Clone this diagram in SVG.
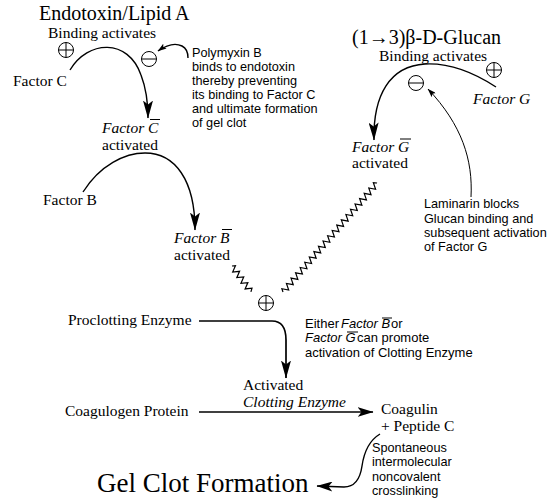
<svg xmlns="http://www.w3.org/2000/svg" width="549" height="499" viewBox="0 0 549 499">
<style>
  .serif { font-family: "Liberation Serif", "Times New Roman", serif; fill: #000; }
  .sans { font-family: "Liberation Sans", Arial, sans-serif; fill: #000; font-size: 12.7px; }
  .body { font-size: 15.5px; }
  .it { font-style: italic; }
  .wire { fill: none; stroke: #000; stroke-width: 1.4; }
  .thin { fill: none; stroke: #000; stroke-width: 1; }
  .zz { fill: none; stroke: #000; stroke-width: 1.2; stroke-linejoin: miter; }
  .bar { stroke: #000; stroke-width: 1; }
  .sym circle { fill: #fff; stroke: #000; stroke-width: 1; }
  .sym path { stroke: #000; stroke-width: 1; fill: none; }
</style>
<defs>
  <marker id="big" viewBox="0 0 18 10" refX="17.5" refY="5" markerWidth="18" markerHeight="10" markerUnits="userSpaceOnUse" orient="auto">
    <path d="M0,0 L18,5 L0,10 L4,5 Z" fill="#000"/>
  </marker>
  <marker id="mid" viewBox="0 0 16 10" refX="15.5" refY="5" markerWidth="16" markerHeight="10" markerUnits="userSpaceOnUse" orient="auto">
    <path d="M0,0 L16,5 L0,10 L4,5 Z" fill="#000"/>
  </marker>
  <marker id="small" viewBox="0 0 9 6" refX="8.5" refY="3" markerWidth="9" markerHeight="6" markerUnits="userSpaceOnUse" orient="auto">
    <path d="M0,0 L9,3 L0,6 L2,3 Z" fill="#000"/>
  </marker>
  <g id="plusSym" class="sym"><circle r="7.5"/><path d="M-7.5,0H7.5M0,-7.5V7.5"/></g>
  <g id="minusSym" class="sym"><circle r="7.5"/><path d="M-7.5,0H7.5"/></g>
</defs>

<g id="connectors">
  <path class="wire" d="M70,70 C88,40 128,38 141,75 C146,88 148,100 148,118" marker-end="url(#big)"/>
  <path class="wire" d="M188,58 C188,52 186,48 182,46 C176,43 168,44 158,51" marker-end="url(#small)"/>
  <path class="wire" d="M83,192 C100,165 125,153 145,153 C175,153 195,180 195,230" marker-end="url(#big)"/>
  <path class="wire" d="M496,87 C470,70 445,63 425,64 C390,66 373,95 374,140" marker-end="url(#big)"/>
  <path class="thin" d="M471,197 C473,160 462,125 428,89" marker-end="url(#small)"/>
  <polyline class="zz" transform="translate(232,266) rotate(53.8)" points="0,0 1.75,-3 5.25,3 8.75,-3 12.25,3 15.75,-3 19.25,3 22.75,-3 26.25,3 29.75,-3 32,0"/>
  <polyline class="zz" transform="translate(283,292) rotate(-49.2)" points="0,0 1.75,-3 5.25,3 8.75,-3 12.25,3 15.75,-3 19.25,3 22.75,-3 26.25,3 29.75,-3 33.25,3 36.75,-3 40.25,3 43.75,-3 47.25,3 50.75,-3 54.25,3 57.75,-3 61.25,3 64.75,-3 68.25,3 71.75,-3 75.25,3 78.75,-3 82.25,3 85.75,-3 89.25,3 92.75,-3 96.25,3 99.75,-3 103.25,3 106.75,-3 110.25,3 113.75,-3 117.25,3 120.75,-3 124.25,3 127.75,-3 131.25,3 134.75,-3 138.25,3 141.75,-3 144,0"/>
  <path class="wire" style="stroke-width:1.7" d="M199,321 H272 C282,321 286,328 286,340 V378" marker-end="url(#big)"/>
  <path class="wire" d="M199,412 H373" marker-end="url(#mid)"/>
  <path class="wire" d="M380,434 C370,440 364,452 362,466 C360,480 354,487 344,487 L317,486" marker-end="url(#mid)"/>
</g>

<g id="endotoxin">
  <text class="serif" x="39" y="20" font-size="20">Endotoxin/Lipid A</text>
  <text class="serif body" x="48" y="37.5">Binding activates</text>
  <use href="#plusSym" x="66" y="50"/>
</g>
<g id="polymyxin">
  <use href="#minusSym" x="149" y="59"/>
  <text class="sans"><tspan x="192" y="57">Polymyxin B</tspan><tspan x="192" y="71">binds to endotoxin</tspan><tspan x="192" y="85">thereby preventing</tspan><tspan x="192" y="99">its binding to Factor C</tspan><tspan x="192" y="113">and ultimate formation</tspan><tspan x="192" y="127">of gel clot</tspan></text>
</g>
<g id="factorC">
  <text class="serif body" x="13" y="86">Factor C</text>
</g>
<g id="factorC-activated">
  <text class="serif body it" x="102" y="133">Factor C</text>
  <line class="bar" x1="150" y1="119.5" x2="160" y2="119.5"/>
  <text class="serif body" x="102" y="149.5">activated</text>
</g>
<g id="factorB">
  <text class="serif body" x="43" y="205">Factor B</text>
</g>
<g id="factorB-activated">
  <text class="serif body it" x="174" y="243">Factor B</text>
  <line class="bar" x1="222" y1="229.5" x2="232" y2="229.5"/>
  <text class="serif body" x="174" y="259.5">activated</text>
</g>
<g id="glucan">
  <text class="serif" x="352" y="44" font-size="20">(1→3)β-D-Glucan</text>
  <text class="serif body" x="379" y="61">Binding activates</text>
  <use href="#plusSym" x="494" y="70"/>
</g>
<g id="factorG">
  <text class="serif body it" x="473" y="104">Factor G</text>
</g>
<g id="factorG-activated">
  <text class="serif body it" x="352" y="152">Factor G</text>
  <line class="bar" x1="400" y1="139" x2="411" y2="139"/>
  <text class="serif body" x="352" y="168">activated</text>
</g>
<g id="laminarin">
  <use href="#minusSym" x="416" y="83"/>
  <text class="sans"><tspan x="424" y="208">Laminarin blocks</tspan><tspan x="424" y="222.5">Glucan binding and</tspan><tspan x="424" y="237">subsequent activation</tspan><tspan x="424" y="251">of Factor G</tspan></text>
</g>
<g id="junction">
  <use href="#plusSym" x="266" y="303"/>
</g>
<g id="proclotting">
  <text class="serif body" x="68" y="325">Proclotting Enzyme</text>
</g>
<g id="either-note">
  <text class="sans" style="font-size:13px" y="328"><tspan x="305">Either</tspan><tspan x="341" class="it">Factor B</tspan><tspan x="391">or</tspan></text>
  <line class="bar" x1="382" y1="318" x2="392" y2="318"/>
  <text class="sans" style="font-size:13px" y="342"><tspan x="305" class="it">Factor G</tspan><tspan x="357">can promote</tspan></text>
  <line class="bar" x1="347" y1="332" x2="358" y2="332"/>
  <text class="sans" style="font-size:13px" x="305" y="357">activation of Clotting Enzyme</text>
</g>
<g id="clotting-enzyme">
  <text class="serif body" x="243" y="390">Activated</text>
  <text class="serif body it" x="243" y="407">Clotting Enzyme</text>
</g>
<g id="coagulogen">
  <text class="serif body" x="65" y="416">Coagulogen Protein</text>
</g>
<g id="coagulin">
  <text class="serif body" x="381" y="414">Coagulin</text>
  <text class="serif body" x="381" y="431">+ Peptide C</text>
</g>
<g id="spontaneous">
  <text class="sans"><tspan x="372" y="452">Spontaneous</tspan><tspan x="372" y="466">intermolecular</tspan><tspan x="372" y="480.5">noncovalent</tspan><tspan x="372" y="495">crosslinking</tspan></text>
</g>
<g id="gelclot">
  <text class="serif" x="97" y="492" font-size="27">Gel Clot Formation</text>
</g>
</svg>
